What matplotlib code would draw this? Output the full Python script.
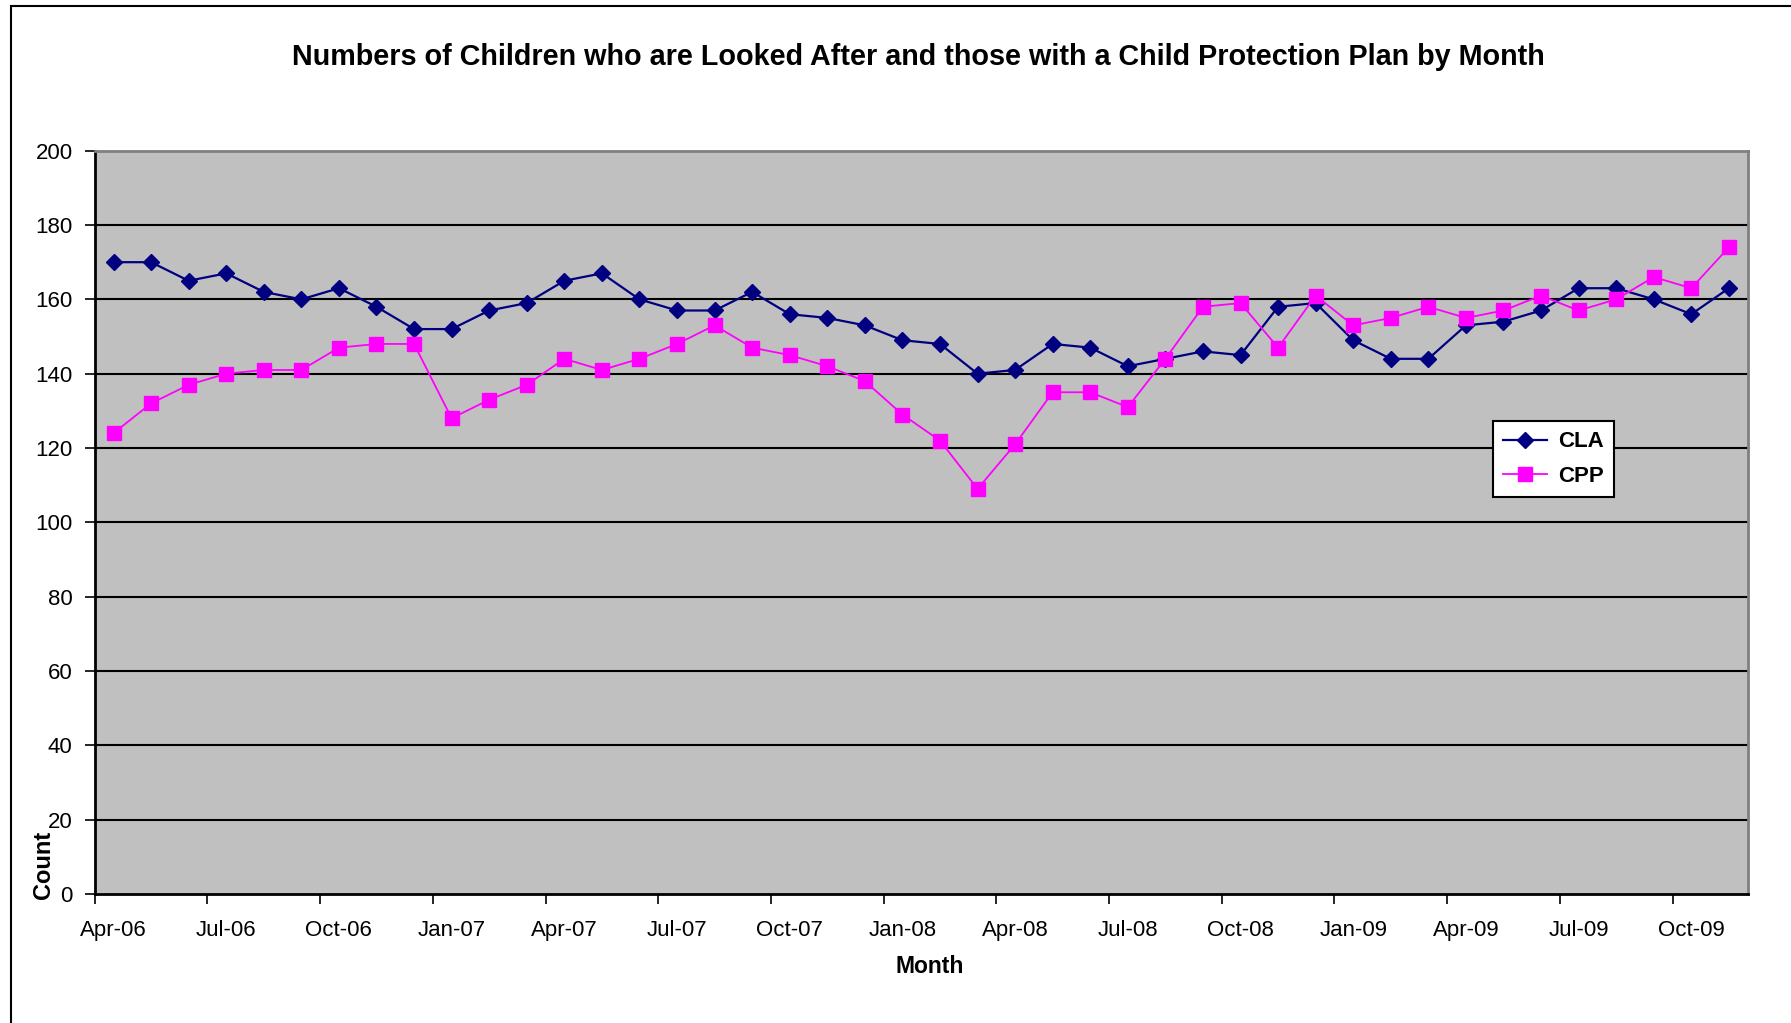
import numpy as np
import matplotlib
matplotlib.use('Agg')
import matplotlib.pyplot as plt
from matplotlib.patches import Rectangle

plt.rcParams['font.family'] = ['Liberation Sans', 'DejaVu Sans']

# monthly values Apr-06 .. Nov-09
months = ['Apr-06', 'May-06', 'Jun-06', 'Jul-06', 'Aug-06', 'Sep-06', 'Oct-06', 'Nov-06', 'Dec-06',
          'Jan-07', 'Feb-07', 'Mar-07', 'Apr-07', 'May-07', 'Jun-07', 'Jul-07', 'Aug-07', 'Sep-07',
          'Oct-07', 'Nov-07', 'Dec-07', 'Jan-08', 'Feb-08', 'Mar-08', 'Apr-08', 'May-08', 'Jun-08',
          'Jul-08', 'Aug-08', 'Sep-08', 'Oct-08', 'Nov-08', 'Dec-08', 'Jan-09', 'Feb-09', 'Mar-09',
          'Apr-09', 'May-09', 'Jun-09', 'Jul-09', 'Aug-09', 'Sep-09', 'Oct-09', 'Nov-09']
cla = [170, 170, 165, 167, 162, 160, 163, 158, 152,
       152, 157, 159, 165, 167, 160, 157, 157, 162,
       156, 155, 153, 149, 148, 140, 141, 148, 147,
       142, 144, 146, 145, 158, 159, 149, 144, 144,
       153, 154, 157, 163, 163, 160, 156, 163]
cpp = [124, 132, 137, 140, 141, 141, 147, 148, 148,
       128, 133, 137, 144, 141, 144, 148, 153, 147,
       145, 142, 138, 129, 122, 109, 121, 135, 135,
       131, 144, 158, 159, 147, 161, 153, 155, 158,
       155, 157, 161, 157, 160, 166, 163, 174]

x = np.arange(len(months))

fig = plt.figure(figsize=(17.91, 10.23), dpi=100)
# chart border
fig.patches.append(Rectangle((0.0064, -0.05), 1.2, 1.044, transform=fig.transFigure,
                             fill=False, edgecolor='black', linewidth=1.5))

ax = fig.add_axes([0.0529, 0.1261, 0.9229, 0.7266])
ax.set_facecolor('#C0C0C0')

for v in range(20, 200, 20):
    ax.axhline(v, color='black', linewidth=1.5, zorder=1)

ax.plot(x, cla, color='#000080', linewidth=1.6, marker='D', markersize=8.5,
        label='CLA', zorder=3)
ax.plot(x, cpp, color='#FF00FF', linewidth=1.3, marker='s', markersize=10,
        label='CPP', zorder=4)

ax.set_xlim(-0.5, len(months) - 0.5)
ax.set_ylim(0, 200)
ax.set_yticks(range(0, 201, 20))
ax.tick_params(axis='y', labelsize=16, length=7, width=1.2, direction='out', pad=9)

# boundary tick marks every 3 months, labels centred on the month
ax.set_xticks(np.arange(-0.5, len(months), 3))
ax.set_xticklabels([])
ax.set_xticks(x[::3], minor=True)
ax.set_xticklabels(months[::3], minor=True, fontsize=16)
ax.tick_params(axis='x', which='major', length=7, width=1.2, direction='out')
ax.tick_params(axis='x', which='minor', length=0, pad=19)

for s in ['left', 'bottom']:
    ax.spines[s].set_color('black')
    ax.spines[s].set_linewidth(2)
for s in ['top', 'right']:
    ax.spines[s].set_color('#808080')
    ax.spines[s].set_linewidth(2)

fig.text(0.513, 0.944, 'Numbers of Children who are Looked After and those with a Child Protection Plan by Month',
         ha='center', va='center', fontsize=20.7, fontweight='bold')
fig.text(0.519, 0.055, 'Month', ha='center', va='center', fontsize=16.5, fontweight='bold')
fig.text(0.0245, 0.121, 'Count', ha='center', va='bottom', rotation=90, fontsize=17, fontweight='bold')

leg = ax.legend(loc='upper left', bbox_to_anchor=(0.8336, 0.588), bbox_transform=fig.transFigure,
                fancybox=False, framealpha=1, edgecolor='black',
                prop={'weight': 'bold', 'size': 16}, handlelength=2.0, handletextpad=0.5,
                labelspacing=0.6, borderpad=0.45, borderaxespad=0)
leg.get_frame().set_linewidth(1.5)

fig.savefig('out.png', dpi=100)
